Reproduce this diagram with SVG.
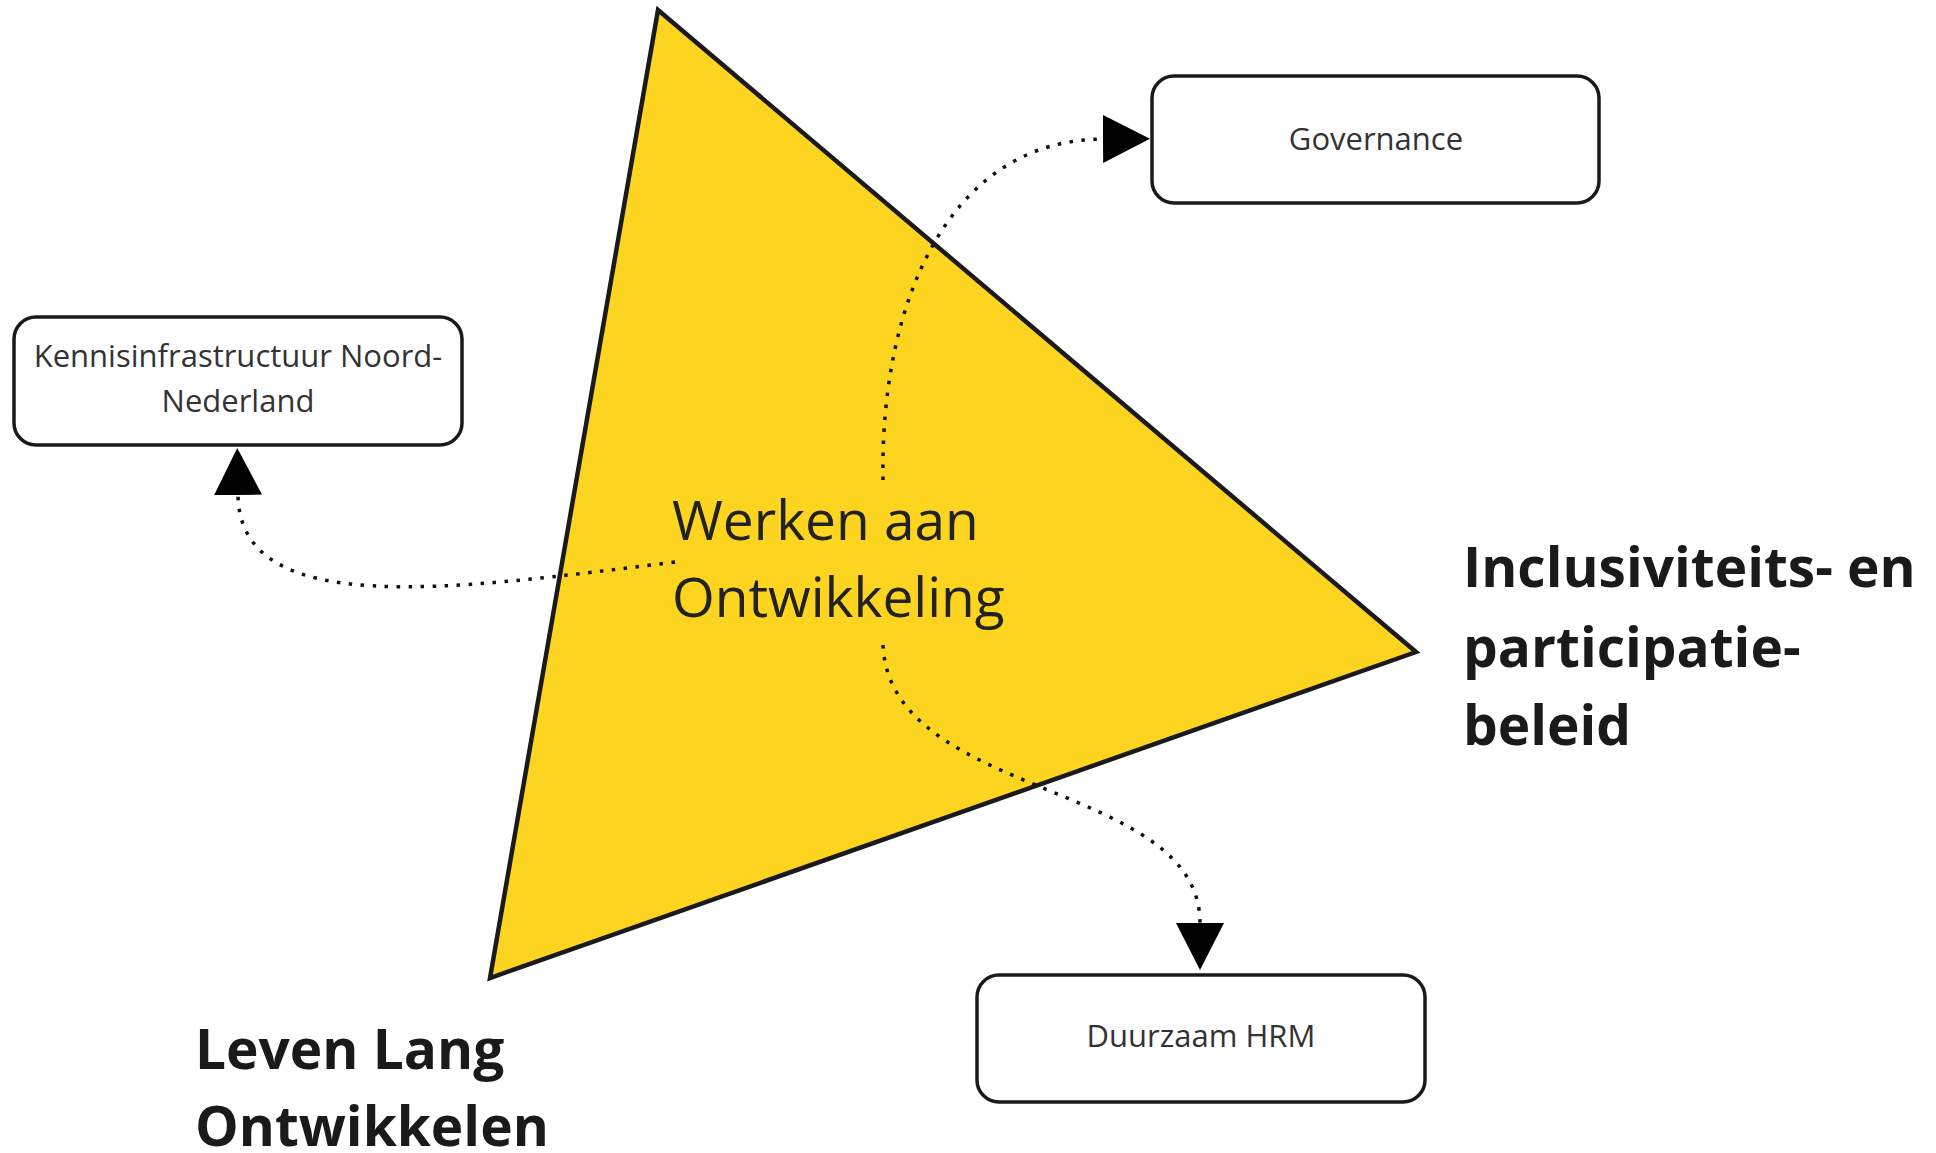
<svg xmlns="http://www.w3.org/2000/svg" width="1936" height="1153" viewBox="0 0 1936 1153">
<style>
.box{fill:#fff;stroke:#1a1a1a;stroke-width:3.5}
.boxt{font-family:"Open Sans","Noto Sans",sans-serif;font-size:31px;fill:#333;text-anchor:middle}
.big{font-family:"Open Sans","Noto Sans",sans-serif;font-size:55px;fill:#222}
.bold{font-family:"Open Sans","Noto Sans",sans-serif;font-size:55px;font-weight:bold;fill:#1a1a1a}
.dot{fill:none;stroke:#111;stroke-width:3.5;stroke-dasharray:3.5 8.5}
</style>
<defs>
<marker id="arr" markerUnits="userSpaceOnUse" markerWidth="48" markerHeight="48" refX="0" refY="24" orient="auto" viewBox="0 0 48 48">
<path d="M0,0 L47,24 L0,48 z" fill="#000"/>
</marker>
</defs>
<g id="triangle">
<polygon points="658,10 1416,652 490,978" fill="#FDD521" stroke="#1a1a1a" stroke-width="4.5" stroke-linejoin="miter"/>
</g>
<g id="connectors">
<path class="dot" d="M675,562 C450,590 240,620 238,495" marker-end="url(#arr)"/>
<path class="dot" d="M883,480 C880,300 950,140 1103,139" marker-end="url(#arr)"/>
<path class="dot" d="M883,645 C890,800 1200,780 1200,923" marker-end="url(#arr)"/>
</g>
<g id="center">
<text class="big" x="672" y="540">Werken aan</text>
<text class="big" x="672" y="617">Ontwikkeling</text>
</g>
<g id="governance">
<rect class="box" x="1152" y="76" width="447" height="127" rx="22"/>
<text class="boxt" x="1376" y="150">Governance</text>
</g>
<g id="kennis">
<rect class="box" x="14" y="317" width="448" height="128" rx="22"/>
<text class="boxt" x="238" y="367">Kennisinfrastructuur Noord-</text>
<text class="boxt" x="238" y="412">Nederland</text>
</g>
<g id="duurzaam">
<rect class="box" x="977" y="975" width="448" height="127" rx="22"/>
<text class="boxt" x="1201" y="1047">Duurzaam HRM</text>
</g>
<g id="inclusiviteit">
<text class="bold" x="1463" y="587">Inclusiviteits- en</text>
<text class="bold" x="1463" y="667">participatie-</text>
<text class="bold" x="1463" y="745">beleid</text>
</g>
<g id="lll">
<text class="bold" x="195" y="1069">Leven Lang</text>
<text class="bold" x="195" y="1146">Ontwikkelen</text>
</g>
</svg>
